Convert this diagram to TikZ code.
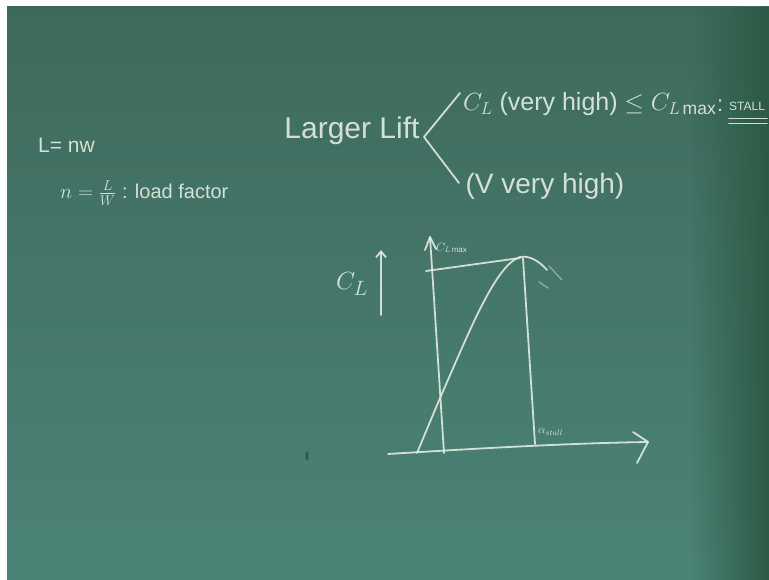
\documentclass[tikz,border=0pt]{standalone}
\usepackage{fontspec}
\setmainfont{Liberation Sans}
\usetikzlibrary{fadings,arrows.meta}
\definecolor{boardtop}{HTML}{3E6A5D}
\definecolor{boardbot}{HTML}{4B8477}
\definecolor{boardedge}{HTML}{2C5A45}
\definecolor{chalk}{HTML}{E2EADF}
\definecolor{smudge}{HTML}{2A4A40}
\tikzfading[name=fadeR, left color=transparent!100, right color=transparent!0]
\tikzset{
  chalkline/.style={draw=chalk, line width=1.8pt, line cap=round, line join=round, opacity=0.9},
  faint/.style={draw=chalk, line width=1.4pt, line cap=round, opacity=0.45},
  chalktext/.style={text=chalk, inner sep=0pt, text opacity=0.92},
}
\begin{document}
\begin{tikzpicture}[x=1pt,y=-1pt]
\useasboundingbox (0,0) rectangle (769,580);
\clip (0,0) rectangle (769,580);
\fill[white] (0,0) rectangle (769,580);
% board
\shade[top color=boardtop, bottom color=boardbot] (7,7) rectangle (769,580);
\fill[boardedge, path fading=fadeR] (690,7) rectangle (769,580);
\fill[smudge, opacity=0.7] (307,456) ellipse (1.6 and 5);

% left formulas
\node[chalktext, anchor=base west, font=\fontsize{21}{21}\selectfont] (lnw) at (38,153) {L= nw};
\node[chalktext, anchor=west, font=\fontsize{20}{20}\selectfont] (nlf) at (60,193) {$n = \frac{L}{W}$ : load factor};

% Larger Lift with bracket
\node[chalktext, font=\fontsize{30}{30}\selectfont] (ll) at (352,131) {Larger Lift};
\coordinate (bapex) at (424,137);
\coordinate (bup) at (460,93);
\coordinate (blo) at (459,183);
\draw[chalkline] (bup) -- (bapex) -- (blo);
\node[chalktext, anchor=west, font=\fontsize{25}{25}\selectfont] (cl1) at (463,104) {$C_L$ (very high) $\le C_{L\max}$};
\node[chalktext, anchor=west, font=\fontsize{22}{22}\selectfont] (colon) at (717,106) {:};
\node[chalktext, anchor=west, font=\fontsize{12}{12}\selectfont] (stall) at (729,106) {STALL};
\draw[chalkline] (stall.south west) ++(0,8) -- ++(38,0);
\draw[chalkline] (stall.south west) ++(0,13) -- ++(38,0);
\node[chalktext, font=\fontsize{28}{28}\selectfont] (vvh) at (545,186) {(V very high)};

% CL with arrow
\node[chalktext, font=\fontsize{30}{30}\selectfont] (clbig) at (352,284) {$C_L$};
\coordinate (ca0) at (381,315);
\coordinate (ca1) at (381,250);
\draw[chalkline, -{Straight Barb[length=6pt,width=10pt]}] (ca0) -- (ca1);

% graph
\coordinate (xa0) at (388,454);
\coordinate (xa1) at (648,442);
\coordinate (xh1) at (633,432);
\coordinate (xh2) at (637,463);
\draw[chalkline] (xa0) .. controls (500,447) and (580,443) .. (xa1);
\draw[chalkline] (xh1) -- (xa1) -- (xh2);

\coordinate (ya0) at (444,453);
\coordinate (ya1) at (430,237);
\draw[chalkline] (ya0) -- (ya1);
\draw[chalkline] (425,250) -- (ya1) -- (436,249);

\coordinate (cm0) at (426,271);
\coordinate (cm1) at (520,258);
\draw[chalkline] (cm0) -- (cm1);

\coordinate (st0) at (523,258);
\coordinate (st1) at (535,444);
\draw[chalkline] (st0) -- (st1);

\coordinate (cv0) at (417,453);
\coordinate (cvp) at (520,257);
\draw[chalkline] (cv0) -- (440,398) .. controls (468,335) and (495,265) .. (cvp)
   .. controls (530,255) and (540,262) .. (547,270);
\draw[faint] (549,266) -- (562,280);
\draw[faint] (539,282) -- (548,288);

\node[chalktext, anchor=west, font=\fontsize{12}{12}\selectfont] (clmax) at (436,248) {$C_{L\max}$};
\node[chalktext, anchor=west, font=\fontsize{12}{12}\selectfont] (astall) at (538,432) {$\alpha_{stall}$};
\end{tikzpicture}
\end{document}
